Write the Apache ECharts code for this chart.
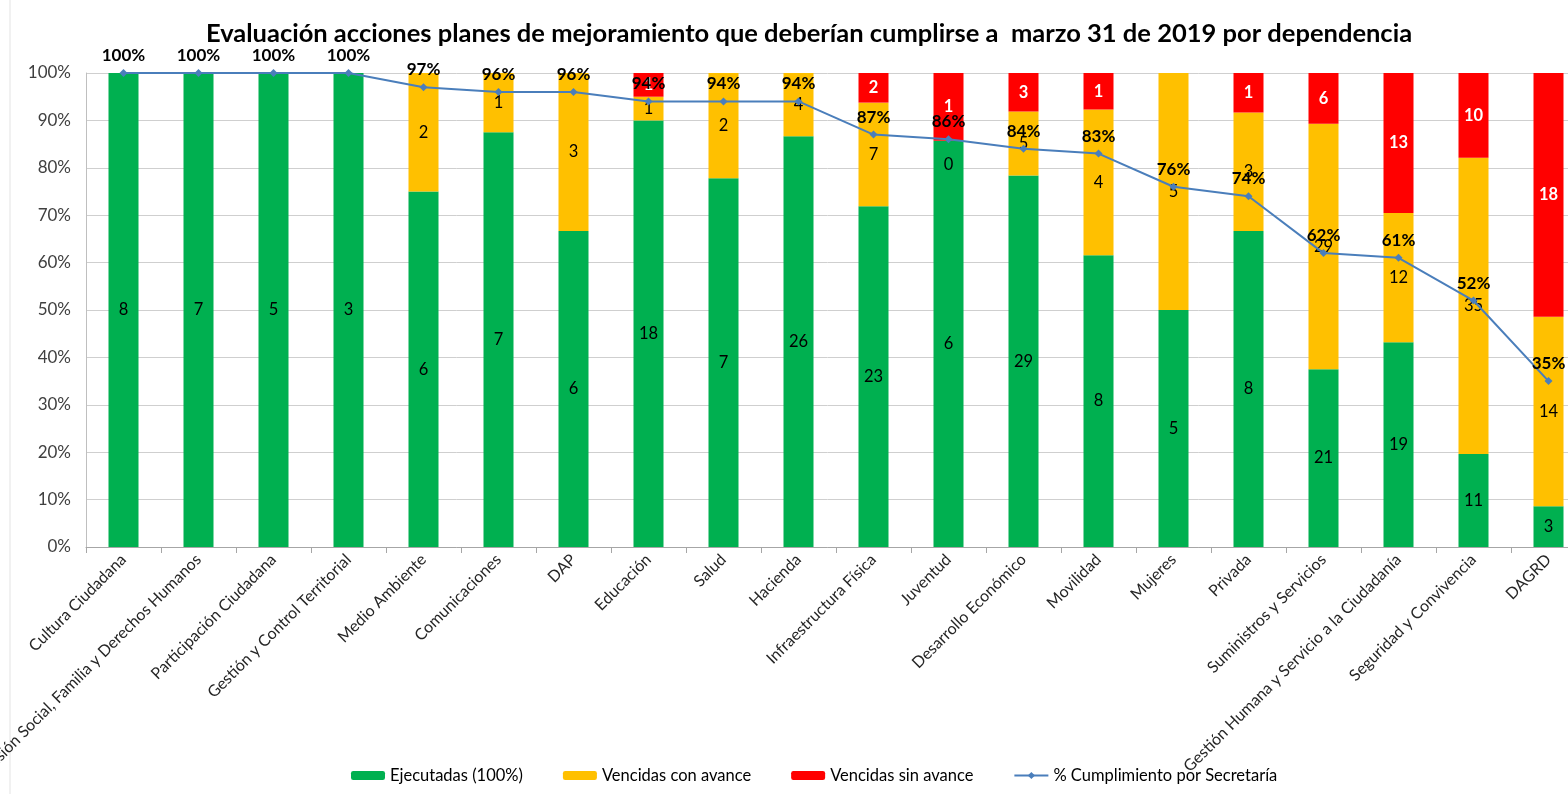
<!DOCTYPE html>
<html>
<head>
<meta charset="utf-8">
<script src="https://cdn.jsdelivr.net/npm/echarts@6/dist/echarts.min.js"></script>
<style>
html,body{margin:0;padding:0;background:#fff;}
#chart{width:1568px;height:794px;}
</style>
</head>
<body>
<div id="chart"></div>
<script>
const categories = ["Cultura Ciudadana","Inclusión Social, Familia y Derechos Humanos","Participación Ciudadana","Gestión y Control Territorial","Medio Ambiente","Comunicaciones","DAP","Educación","Salud","Hacienda","Infraestructura Física","Juventud","Desarrollo Económico","Movilidad","Mujeres","Privada","Suministros y Servicios","Gestión Humana y Servicio a la Ciudadanía","Seguridad y Convivencia","DAGRD"];
const ejecutadas = [8,7,5,3,6,7,6,18,7,26,23,6,29,8,5,8,21,19,11,3];
const vencidasConAvance = [null,null,null,null,2,1,3,1,2,4,7,0,5,4,5,3,29,12,35,14];
const vencidasSinAvance = [null,null,null,null,null,null,null,1,null,null,2,1,3,1,null,1,6,13,10,18];
const cumplimiento = [100,100,100,100,97,96,96,94,94,94,87,86,84,83,76,74,62,61,52,35];
const seriesNames = ["Ejecutadas (100%)","Vencidas con avance","Vencidas sin avance","% Cumplimiento por Secretaría"];

const totals = categories.map((c,i)=> (ejecutadas[i]||0)+(vencidasConAvance[i]||0)+(vencidasSinAvance[i]||0));
function toPct(arr){
  return arr.map((v,i)=> {
    if (v===null) return '-';
    const item = {value: v/totals[i]*100, count: v};
    if (v===0) item.label = {offset:[0,24]};
    return item;
  });
}
const FONT = 'Lato';
const chart = echarts.init(document.getElementById('chart'));
chart.setOption({
  animation:false,
  backgroundColor:'#ffffff',
  title:{
    text:'Evaluación acciones planes de mejoramiento que deberían cumplirse a  marzo 31 de 2019 por dependencia',
    left:804, top:16, textAlign:'center',
    textStyle:{fontFamily:FONT,fontSize:25.5,fontWeight:'bold',color:'#000'}
  },
  legend:{
    bottom:5, left:346,
    itemWidth:34, itemHeight:9, itemGap:40,
    textStyle:{fontFamily:FONT,fontSize:16.5,color:'#000'},
    data:seriesNames
  },
  grid:{left:86, top:73, width:1500, height:474, containLabel:false, outerBoundsMode:'none'},
  xAxis:{
    type:'category', data:categories,
    axisLine:{lineStyle:{color:'#a6a6a6'}},
    axisTick:{show:true, alignWithLabel:false, length:6, lineStyle:{color:'#a6a6a6'}},
    axisLabel:{rotate:45, interval:0, fontFamily:FONT, fontSize:16, color:'#262626', margin:10}
  },
  yAxis:{
    type:'value', min:0, max:100, interval:10,
    axisLine:{show:true, lineStyle:{color:'#bfbfbf'}},
    axisTick:{show:false},
    axisLabel:{formatter:'{value}%', fontFamily:FONT, fontSize:17, color:'#404040', margin:15},
    splitLine:{lineStyle:{color:'#cfcfcf'}}
  },
  graphic:[{type:'line', shape:{x1:10,y1:0,x2:10,y2:794}, style:{stroke:'#e3e3e3', lineWidth:1}}],
  series:[
    {name:seriesNames[0], type:'bar', stack:'a', barWidth:'40%', data:toPct(ejecutadas),
     itemStyle:{color:'#00b050'},
     label:{show:true, position:'inside', formatter:p=>p.data.count, fontFamily:FONT, fontSize:16.5, color:'#000'}},
    {name:seriesNames[1], type:'bar', stack:'a', data:toPct(vencidasConAvance),
     itemStyle:{color:'#ffc000'},
     label:{show:true, position:'inside', formatter:p=>p.data.count, fontFamily:FONT, fontSize:16.5, color:'#000'}},
    {name:seriesNames[2], type:'bar', stack:'a', data:toPct(vencidasSinAvance),
     itemStyle:{color:'#ff0000'},
     label:{show:true, position:'inside', formatter:p=>p.data.count, fontFamily:FONT, fontSize:16.5, fontWeight:'bold', color:'#fff'}},
    {name:seriesNames[3], type:'line', data:cumplimiento, z:5,
     symbol:'diamond', symbolSize:8,
     lineStyle:{color:'#4a7ebb', width:2}, itemStyle:{color:'#4a7ebb'},
     label:{show:true, position:'top', distance:5, formatter:'{c}%', fontFamily:FONT, fontSize:17, fontWeight:'bold', color:'#000'}}
  ]
});
</script>
</body>
</html>
